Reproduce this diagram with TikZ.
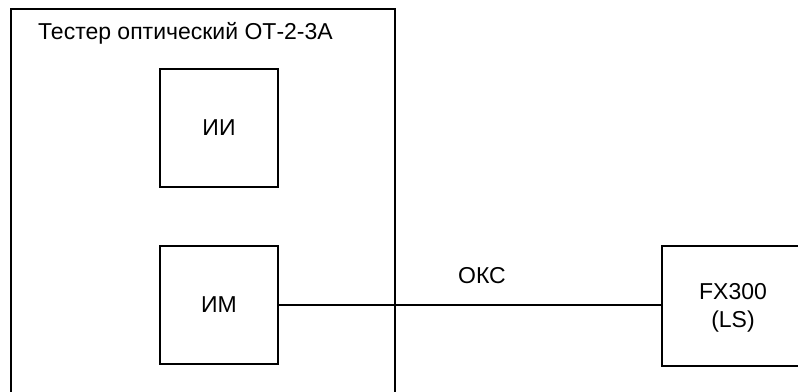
\documentclass[tikz,border=0pt]{standalone}
\usepackage{fontspec}
\setmainfont{Liberation Sans}
\begin{document}
\begin{tikzpicture}[x=1pt,y=-1pt,
  box/.style={draw,line width=1.8pt,minimum width=118pt,minimum height=118pt,inner sep=0pt,font=\fontsize{23}{27}\selectfont},
  lbl/.style={font=\fontsize{23}{27}\selectfont,inner sep=0pt},
  wire/.style={line width=1.8pt}]
\useasboundingbox (0,0) rectangle (798,391);
\draw[line width=1.8pt] (11,400) -- (11,9) -- (395,9) -- (395,400);
\node[lbl,anchor=west] (title) at (38,33) {Тестер оптический ОТ-2-3А};
\node[box] (ii) at (219,128) {ИИ};
\node[box] (im) at (219,305) {ИМ};
\node[draw,line width=1.8pt,minimum width=150pt,minimum height=120pt,inner sep=0pt,anchor=west] (fx) at (661,306) {};
\node[lbl] (fxt) at (733,292) {FX300};
\node[lbl] (fxl) at (733,322) {(LS)};
\draw[wire] (im.east) -- (fx.west |- im.east);
\node[lbl] (oks) at (482,276) {ОКС};
\end{tikzpicture}
\end{document}
